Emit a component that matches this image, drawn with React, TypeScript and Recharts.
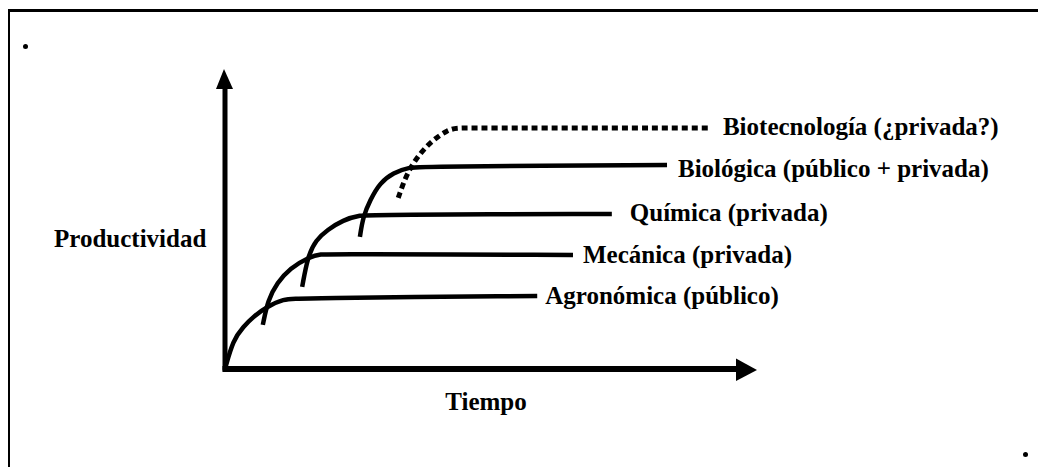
import React from 'react';
import { LineChart, Line, XAxis, YAxis, ReferenceDot, ReferenceLine } from 'recharts';

// Curves: t = tiempo (0-100), p = productividad (0-100)
const agronomica = [
  { t: 0, p: 0 },
  { t: 1.6, p: 10.3 },
  { t: 3.5, p: 14.9 },
  { t: 5.9, p: 19.2 },
  { t: 8.2, p: 22.1 },
  { t: 11.4, p: 24.9 },
  { t: 14.5, p: 25.2 },
  { t: 61.1, p: 26.0 },
];

const mecanica = [
  { t: 7.4, p: 15.7 },
  { t: 8.4, p: 24.6 },
  { t: 10.2, p: 30.6 },
  { t: 12.7, p: 35.9 },
  { t: 16.6, p: 39.9 },
  { t: 18.6, p: 40.9 },
  { t: 21.5, p: 40.9 },
  { t: 68.1, p: 40.6 },
];

const quimica = [
  { t: 15.1, p: 29.2 },
  { t: 16.2, p: 40.2 },
  { t: 17.8, p: 45.9 },
  { t: 20.0, p: 49.5 },
  { t: 23.1, p: 53.0 },
  { t: 26.4, p: 54.8 },
  { t: 29.5, p: 54.9 },
  { t: 75.7, p: 55.2 },
];

const biologica = [
  { t: 26.4, p: 47.0 },
  { t: 27.0, p: 54.1 },
  { t: 28.4, p: 60.1 },
  { t: 30.3, p: 66.2 },
  { t: 32.9, p: 69.8 },
  { t: 36.2, p: 71.9 },
  { t: 39.0, p: 72.0 },
  { t: 86.5, p: 72.6 },
];

const biotecnologia = [
  { t: 33.9, p: 60.9 },
  { t: 35.6, p: 69.8 },
  { t: 38.2, p: 76.9 },
  { t: 40.7, p: 81.5 },
  { t: 43.6, p: 85.1 },
  { t: 45.4, p: 85.8 },
  { t: 48.5, p: 85.8 },
  { t: 94.9, p: 85.8 },
];

const series = [
  { key: 'agronomica', label: 'Agronómica (público)', data: agronomica },
  { key: 'mecanica', label: 'Mecánica (privada)', data: mecanica },
  { key: 'quimica', label: 'Química (privada)', data: quimica },
  { key: 'biologica', label: 'Biológica (público + privada)', data: biologica },
  { key: 'biotecnologia', label: 'Biotecnología (¿privada?)', data: biotecnologia },
];

const xTitle = 'Tiempo';
const yTitle = 'Productividad';

// label offsets and line styles per series
const styles: Record<string, { dx: number; dy: number; dash?: string; width: number }> = {
  agronomica: { dx: 8, dy: 8, width: 4.5 },
  mecanica: { dx: 10, dy: 8, width: 4.5 },
  quimica: { dx: 18, dy: 7, width: 4.5 },
  biologica: { dx: 11, dy: 12, width: 4.5 },
  biotecnologia: { dx: 13, dy: 7, dash: '6 4', width: 5 },
};

const FONT = "'Liberation Serif', 'Times New Roman', serif";

const textStyle = {
  fontFamily: FONT,
  fontWeight: 'bold' as const,
  fontSize: 25,
  fill: '#000',
};

const App: React.FC = () => {
  return (
    <div
      style={{
        position: 'absolute',
        left: 0,
        top: 0,
        width: 1038,
        height: 467,
        background: '#fff',
        overflow: 'hidden',
      }}
    >
      {/* frame, only top and left edges visible */}
      <div
        style={{
          position: 'absolute',
          left: 8,
          top: 9,
          width: 1040,
          height: 470,
          borderLeft: '2px solid #000',
          borderTop: '3px solid #000',
        }}
      />
      <div style={{ position: 'absolute', left: 23, top: 44, width: 5, height: 5, borderRadius: 3, background: '#000' }} />
      <div style={{ position: 'absolute', left: 1023, top: 452, width: 5, height: 5, borderRadius: 3, background: '#000' }} />

      <svg width={1038} height={467} style={{ position: 'absolute', left: 0, top: 0 }}>
        <text x={54} y={247} {...textStyle}>
          {yTitle}
        </text>
        <text x={486} y={410} textAnchor="middle" {...textStyle}>
          {xTitle}
        </text>
      </svg>

      <div style={{ position: 'absolute', left: 0, top: 0 }}>
        <LineChart width={1038} height={467} margin={{ top: 88, right: 302, bottom: 98, left: 225 }}>
          <XAxis type="number" dataKey="t" domain={[0, 100]} hide />
          <YAxis type="number" dataKey="p" domain={[0, 100]} hide />
          {/* axes with arrow heads */}
          <ReferenceLine
            segment={[{ x: -0.5, y: 0 }, { x: 100, y: 0 }]}
            stroke="#000"
            strokeWidth={6}
            ifOverflow="visible"
          />
          <ReferenceLine
            segment={[{ x: 0, y: -0.5 }, { x: 0, y: 100 }]}
            stroke="#000"
            strokeWidth={5}
            ifOverflow="visible"
          />
          <ReferenceDot
            x={100}
            y={0}
            ifOverflow="visible"
            shape={(p: any) => (
              <polygon points={`${p.cx},${p.cy - 10.5} ${p.cx + 21},${p.cy + 1} ${p.cx},${p.cy + 12}`} fill="#000" />
            )}
          />
          <ReferenceDot
            x={0}
            y={100}
            ifOverflow="visible"
            shape={(p: any) => (
              <polygon points={`${p.cx - 9},${p.cy + 1} ${p.cx - 1},${p.cy - 19} ${p.cx + 8},${p.cy + 1}`} fill="#000" />
            )}
          />
          {series.map((s) => {
            const st = styles[s.key];
            const last = s.data.length - 1;
            return (
              <Line
                key={s.key}
                data={s.data}
                dataKey="p"
                type="basis"
                stroke="#000"
                strokeWidth={st.width}
                strokeDasharray={st.dash}
                dot={false}
                activeDot={false}
                isAnimationActive={false}
                label={(props: any) =>
                  props.index === last ? (
                    <text key={s.key + '-lbl'} x={props.x + st.dx} y={props.y + st.dy} textAnchor="start" {...textStyle}>
                      {s.label}
                    </text>
                  ) : (
                    <g key={s.key + '-' + props.index} />
                  )
                }
              />
            );
          })}
        </LineChart>
      </div>
    </div>
  );
};

export default App;
